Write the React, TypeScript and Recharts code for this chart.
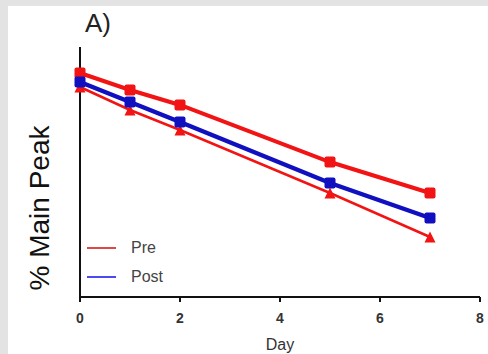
import { LineChart, Line, XAxis, YAxis, Label } from 'recharts';

const days = [0, 1, 2, 5, 7];
const preUpper = [89.6, 82.8, 76.8, 54, 41.6];
const post = [86, 78, 70, 45.6, 31.6];
const preLower = [84, 74.8, 66.8, 41.6, 24];
const xTicks = [0, 2, 4, 6, 8];
const yTicks = [0, 20, 40, 60, 80, 100];

const data = days.map((d, i) => ({
  day: d,
  preUpper: preUpper[i],
  post: post[i],
  preLower: preLower[i],
}));

const RED = '#f21414';
const BLUE = '#1010c0';
const FONT = 'Liberation Sans, Arial, sans-serif';

const Square = (color: string, size: number) => (props: any) => {
  const { cx, cy, index } = props;
  if (cx == null || cy == null) return <g key={index} />;
  return <rect key={index} x={cx - size / 2} y={cy - size / 2} width={size} height={size} rx={2} fill={color} />;
};

const Triangle = (color: string, size: number) => (props: any) => {
  const { cx, cy, index } = props;
  if (cx == null || cy == null) return <g key={index} />;
  const h = size;
  return (
    <polygon
      key={index}
      points={`${cx},${cy - h / 2} ${cx + h / 2},${cy + h / 2} ${cx - h / 2},${cy + h / 2}`}
      fill={color}
    />
  );
};

// legend drawn by hand, only two entries like the source figure
const LegendBox = () => (
  <div style={{ position: 'absolute', left: 79, top: 227, fontFamily: FONT, fontSize: 16, color: '#444' }}>
    <div style={{ display: 'flex', alignItems: 'center', height: 29 }}>
      <span style={{ display: 'inline-block', width: 29, height: 2, background: '#e04848', marginRight: 15 }} />
      Pre
    </div>
    <div style={{ display: 'flex', alignItems: 'center', height: 29 }}>
      <span style={{ display: 'inline-block', width: 29, height: 2, background: '#4a4af0', marginRight: 15 }} />
      Post
    </div>
  </div>
);

export default function App() {
  return (
    <div style={{ position: 'fixed', left: 0, top: 0, width: 488, height: 354, background: '#e3e3e3' }}>
      <div style={{ position: 'absolute', left: 8, top: 6, width: 480, height: 348, background: '#fff' }}>
        <div style={{ position: 'absolute', left: 77, top: 2, fontFamily: FONT, fontSize: 26, color: '#222' }}>
          A)
        </div>
        <div style={{ position: 'absolute', left: 32, top: 202, width: 0, height: 0, overflow: 'visible' }}>
          <div
            style={{
              position: 'absolute',
              transform: 'translate(-50%, -50%) rotate(-90deg)',
              whiteSpace: 'nowrap',
              fontFamily: FONT,
              fontSize: 28,
              color: '#111',
            }}
          >
            % Main Peak
          </div>
        </div>
        <LineChart
          width={480}
          height={348}
          data={data}
          margin={{ top: 41, right: 8, left: 0, bottom: 27 }}
          style={{ fontFamily: FONT }}
        >
          <XAxis
            dataKey="day"
            type="number"
            domain={[0, 8]}
            ticks={xTicks}
            height={30}
            axisLine={{ stroke: '#111', strokeWidth: 2 }}
            tickLine={{ stroke: '#111', strokeWidth: 2 }}
            tickSize={5}
            tickMargin={11}
            tick={{ fill: '#333', fontSize: 14, fontWeight: 700 }}
          >
            <Label value="Day" position="insideBottom" offset={-23} style={{ fill: '#333', fontSize: 16 }} />
          </XAxis>
          <YAxis
            type="number"
            domain={[0, 100]}
            ticks={yTicks}
            width={72}
            tick={false}
            axisLine={{ stroke: '#111', strokeWidth: 2 }}
            tickLine={{ stroke: '#111', strokeWidth: 2 }}
            tickSize={5}
          />
          <Line
            name="Pre"
            dataKey="preUpper"
            stroke={RED}
            strokeWidth={4}
            dot={Square(RED, 11)}
            isAnimationActive={false}
          />
          <Line
            name="Pre"
            dataKey="preLower"
            stroke={RED}
            strokeWidth={2.5}
            dot={Triangle(RED, 11)}
            isAnimationActive={false}
          />
          <Line
            name="Post"
            dataKey="post"
            stroke={BLUE}
            strokeWidth={4.5}
            dot={Square(BLUE, 11)}
            isAnimationActive={false}
          />
        </LineChart>
        <LegendBox />
      </div>
    </div>
  );
}
